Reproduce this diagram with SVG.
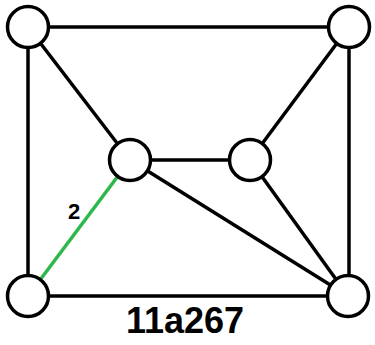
<svg xmlns="http://www.w3.org/2000/svg" width="375" height="345" viewBox="0 0 375 345">
<style>
.e{stroke:#000;stroke-width:3.5;fill:none}
.g{stroke:#2bb84a;stroke-width:3.5;fill:none}
.n{fill:#fff;stroke:#000;stroke-width:3.5}
.t{font-family:"Liberation Sans",Arial,sans-serif;font-weight:bold;fill:#000}
</style>
<rect width="375" height="345" fill="#fff"/>
<g id="connectors">
<line class="e" x1="28" y1="27" x2="349" y2="27"/>
<line class="e" x1="28" y1="27" x2="28" y2="296"/>
<line class="e" x1="28" y1="27" x2="130" y2="160"/>
<line class="e" x1="349" y1="27" x2="250" y2="160"/>
<line class="e" x1="349" y1="27" x2="349" y2="296"/>
<line class="e" x1="130" y1="160" x2="250" y2="160"/>
<line class="e" x1="130" y1="160" x2="348" y2="296"/>
<line class="e" x1="250" y1="160" x2="348" y2="296"/>
<line class="e" x1="28" y1="296" x2="348" y2="296"/>
<line class="g" x1="130" y1="160" x2="28" y2="296"/>
<text class="t" x="68" y="219" font-size="22">2</text>
</g>
<g id="n1"><circle class="n" cx="28" cy="27" r="20.5"/></g>
<g id="n2"><circle class="n" cx="349" cy="27" r="20.5"/></g>
<g id="n3"><circle class="n" cx="130" cy="160" r="20.5"/></g>
<g id="n4"><circle class="n" cx="250" cy="160" r="20.5"/></g>
<g id="n5"><circle class="n" cx="28" cy="296" r="20.5"/></g>
<g id="n6"><circle class="n" cx="348" cy="296" r="20.5"/></g>
<text class="t" x="126" y="333" font-size="36">11a267</text>
</svg>
